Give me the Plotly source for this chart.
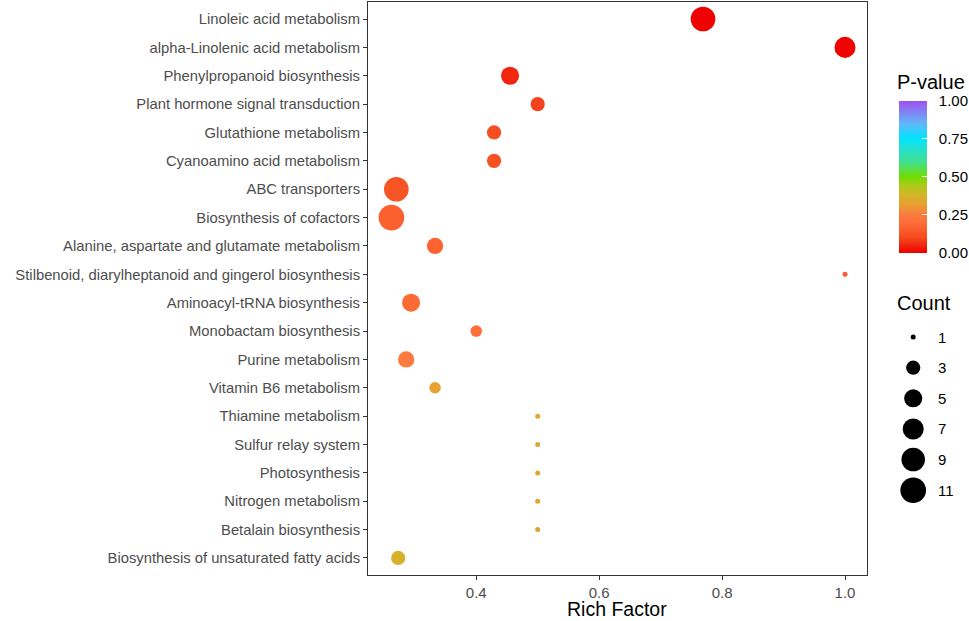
import plotly.graph_objects as go

# KEGG enrichment bubble chart
pathways = [
    "Linoleic acid metabolism",
    "alpha-Linolenic acid metabolism",
    "Phenylpropanoid biosynthesis",
    "Plant hormone signal transduction",
    "Glutathione metabolism",
    "Cyanoamino acid metabolism",
    "ABC transporters",
    "Biosynthesis of cofactors",
    "Alanine, aspartate and glutamate metabolism",
    "Stilbenoid, diarylheptanoid and gingerol biosynthesis",
    "Aminoacyl-tRNA biosynthesis",
    "Monobactam biosynthesis",
    "Purine metabolism",
    "Vitamin B6 metabolism",
    "Thiamine metabolism",
    "Sulfur relay system",
    "Photosynthesis",
    "Nitrogen metabolism",
    "Betalain biosynthesis",
    "Biosynthesis of unsaturated fatty acids",
]
rich_factor = [0.769, 1.0, 0.455, 0.5, 0.429, 0.429, 0.27, 0.262, 0.333, 1.0,
               0.294, 0.4, 0.286, 0.333, 0.5, 0.5, 0.5, 0.5, 0.5, 0.273]
counts = [10, 7, 5, 3, 3, 3, 10, 11, 4, 1, 5, 2, 4, 2, 1, 1, 1, 1, 1, 3]
pvalues = [0.001, 0.004, 0.05, 0.09, 0.11, 0.12, 0.13, 0.16, 0.17, 0.15,
           0.19, 0.21, 0.25, 0.32, 0.34, 0.34, 0.34, 0.34, 0.34, 0.37]

legend_counts = [1, 3, 5, 7, 9, 11]
cbar_ticks = [0.0, 0.25, 0.5, 0.75, 1.0]

colorscale = [
    [0.00, "#EE0000"], [0.10, "#F54A1E"], [0.20, "#FF6E38"], [0.25, "#FA7A40"],
    [0.32, "#E8A030"], [0.38, "#D4B428"], [0.45, "#A8CC18"], [0.50, "#70DD00"],
    [0.60, "#40E090"], [0.70, "#20E0D8"], [0.75, "#00E5FF"], [0.85, "#60B8F8"],
    [1.00, "#A050F0"],
]

W, H = 969, 621
L, T, B = 368, 2, 45.5
plot_w = W - L
plot_h = H - T - B


def px_x(p):
    return (p - L) / plot_w


def px_y(p):
    return (H - B - p) / plot_h


def dot_size(c):
    # area-like scaling similar to ggplot scale_size
    return 5 + 20.7 * ((c - 1) / 10) ** 0.5


fig = go.Figure()

fig.add_trace(go.Scatter(
    x=rich_factor, y=pathways, mode="markers",
    marker=dict(size=[dot_size(c) for c in counts], color=pvalues,
                colorscale=colorscale, cmin=0, cmax=1, line=dict(width=0),
                opacity=1,
                colorbar=dict(
                    tickvals=cbar_ticks,
                    # nbsp prefix pushes labels away from the bar like ggplot
                    ticktext=["\u00a0\u00a0" + f"{t:.2f}" for t in cbar_ticks],
                    ticks="inside", tickcolor="white", ticklen=5, tickwidth=1.2,
                    tickfont=dict(size=15, color="black"),
                    thickness=28, len=152, lenmode="pixels",
                    x=px_x(899), xanchor="left", xpad=0,
                    y=px_y(253), yanchor="bottom", ypad=0,
                    outlinewidth=0,
                )),
    showlegend=False, hoverinfo="x+y",
))

# size legend drawn on a small side axis
fig.add_trace(go.Scatter(
    x=[0.22] * len(legend_counts), y=list(range(len(legend_counts))),
    mode="markers",
    marker=dict(size=[dot_size(c) for c in legend_counts], color="#000000",
                line=dict(width=0), opacity=1),
    xaxis="x2", yaxis="y2", showlegend=False, hoverinfo="skip",
))
for i, c in enumerate(legend_counts):
    fig.add_annotation(text=str(c), xref="x2", yref="y2", x=0.6, y=i,
                       xanchor="left", yanchor="middle", showarrow=False,
                       font=dict(size=15, color="black"))

fig.add_annotation(text="Count", xref="paper", yref="paper",
                   x=px_x(895), y=px_y(303), xanchor="left", yanchor="middle",
                   showarrow=False, font=dict(size=20, color="black"))
fig.add_annotation(text="P-value", xref="paper", yref="paper",
                   x=px_x(895), y=px_y(82), xanchor="left", yanchor="middle",
                   showarrow=False, font=dict(size=20, color="black"))
fig.add_annotation(text="Rich Factor", xref="paper", yref="paper",
                   x=px_x(617), y=px_y(610), xanchor="center", yanchor="middle",
                   showarrow=False, font=dict(size=19.5, color="black"))

fig.update_layout(
    width=W, height=H,
    margin=dict(l=L, r=0, t=T, b=B, autoexpand=False),
    plot_bgcolor="white", paper_bgcolor="white",
    font=dict(family="Liberation Sans, Arial, sans-serif"),
    xaxis=dict(domain=[0, px_x(867)], range=[0.2239, 1.0358],
               tickvals=[0.4, 0.6, 0.8, 1.0], ticktext=["0.4", "0.6", "0.8", "1.0"],
               ticks="outside", ticklen=4, tickcolor="#333333",
               tickfont=dict(size=15, color="#4D4D4D"),
               showline=True, linecolor="#333333", linewidth=1, mirror=True,
               showgrid=False, zeroline=False),
    yaxis=dict(categoryorder="array", categoryarray=pathways,
               range=[len(pathways) - 0.4, -0.6],
               ticks="outside", ticklen=4, tickcolor="#333333",
               tickfont=dict(size=14.8, color="#4D4D4D"),
               showline=True, linecolor="#333333", linewidth=1, mirror=True,
               showgrid=False, zeroline=False),
    xaxis2=dict(domain=[px_x(900), px_x(960)], range=[0, 1],
                visible=False, fixedrange=True, anchor="y2"),
    yaxis2=dict(domain=[px_y(506), px_y(322)],
                range=[5.5, -0.5], visible=False, fixedrange=True, anchor="x2"),
)

# page body has a default 8px margin; drop it so the figure sits at the corner
fig.write_html("out.html", config={"displayModeBar": False},
               post_script="document.body.style.margin='0px';")
